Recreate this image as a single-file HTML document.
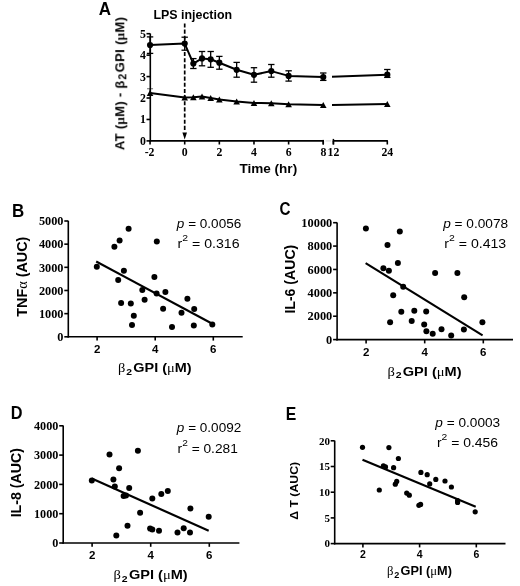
<!DOCTYPE html>
<html><head><meta charset="utf-8"><style>
html,body{margin:0;padding:0;background:#fff;}
svg{display:block;}

</style></head><body>
<svg width="520" height="586" viewBox="0 0 520 586">
<defs><filter id="bl" x="0" y="0" width="520" height="586" filterUnits="userSpaceOnUse"><feGaussianBlur stdDeviation="0.45"/></filter></defs>
<rect width="520" height="586" fill="#fff"/>
<g filter="url(#bl)">
<line x1="150.30" y1="33.50" x2="150.30" y2="141.70" stroke="#000" stroke-width="1.6" />
<line x1="146.50" y1="140.90" x2="150.30" y2="140.90" stroke="#000" stroke-width="1.6" />
<text x="146.00" y="144.90" font-family='"Liberation Serif", serif' font-size="11.8" font-weight="bold" text-anchor="end" >0</text>
<line x1="146.50" y1="119.46" x2="150.30" y2="119.46" stroke="#000" stroke-width="1.6" />
<text x="146.00" y="123.46" font-family='"Liberation Serif", serif' font-size="11.8" font-weight="bold" text-anchor="end" >1</text>
<line x1="146.50" y1="98.02" x2="150.30" y2="98.02" stroke="#000" stroke-width="1.6" />
<text x="146.00" y="102.02" font-family='"Liberation Serif", serif' font-size="11.8" font-weight="bold" text-anchor="end" >2</text>
<line x1="146.50" y1="76.58" x2="150.30" y2="76.58" stroke="#000" stroke-width="1.6" />
<text x="146.00" y="80.58" font-family='"Liberation Serif", serif' font-size="11.8" font-weight="bold" text-anchor="end" >3</text>
<line x1="146.50" y1="55.14" x2="150.30" y2="55.14" stroke="#000" stroke-width="1.6" />
<text x="146.00" y="59.14" font-family='"Liberation Serif", serif' font-size="11.8" font-weight="bold" text-anchor="end" >4</text>
<line x1="146.50" y1="33.70" x2="150.30" y2="33.70" stroke="#000" stroke-width="1.6" />
<text x="146.00" y="37.70" font-family='"Liberation Serif", serif' font-size="11.8" font-weight="bold" text-anchor="end" >5</text>
<line x1="149.50" y1="140.90" x2="323.86" y2="140.90" stroke="#000" stroke-width="1.6" />
<line x1="332.80" y1="140.90" x2="387.90" y2="140.90" stroke="#000" stroke-width="1.6" />
<line x1="150.06" y1="140.90" x2="150.06" y2="144.50" stroke="#000" stroke-width="1.6" />
<line x1="184.70" y1="140.90" x2="184.70" y2="144.50" stroke="#000" stroke-width="1.6" />
<line x1="219.34" y1="140.90" x2="219.34" y2="144.50" stroke="#000" stroke-width="1.6" />
<line x1="253.98" y1="140.90" x2="253.98" y2="144.50" stroke="#000" stroke-width="1.6" />
<line x1="288.62" y1="140.90" x2="288.62" y2="144.50" stroke="#000" stroke-width="1.6" />
<line x1="323.26" y1="140.90" x2="323.26" y2="144.50" stroke="#000" stroke-width="1.6" />
<line x1="333.40" y1="140.90" x2="333.40" y2="144.50" stroke="#000" stroke-width="1.6" />
<line x1="387.30" y1="140.90" x2="387.30" y2="144.50" stroke="#000" stroke-width="1.6" />
<line x1="323.26" y1="139.90" x2="323.26" y2="144.50" stroke="#000" stroke-width="1.5" />
<line x1="333.40" y1="138.90" x2="333.40" y2="144.50" stroke="#000" stroke-width="1.5" />
<line x1="325.46" y1="140.90" x2="331.20" y2="140.90" stroke="#d4d4d4" stroke-width="1.2" />
<text x="149.56" y="156.30" font-family='"Liberation Serif", serif' font-size="11.8" font-weight="bold" text-anchor="middle" >-2</text>
<text x="184.70" y="156.30" font-family='"Liberation Serif", serif' font-size="11.8" font-weight="bold" text-anchor="middle" >0</text>
<text x="219.34" y="156.30" font-family='"Liberation Serif", serif' font-size="11.8" font-weight="bold" text-anchor="middle" >2</text>
<text x="253.98" y="156.30" font-family='"Liberation Serif", serif' font-size="11.8" font-weight="bold" text-anchor="middle" >4</text>
<text x="288.62" y="156.30" font-family='"Liberation Serif", serif' font-size="11.8" font-weight="bold" text-anchor="middle" >6</text>
<text x="387.30" y="156.30" font-family='"Liberation Serif", serif' font-size="11.8" font-weight="bold" text-anchor="middle" >24</text>
<text x="323.50" y="156.30" font-family='"Liberation Serif", serif' font-size="11.8" font-weight="bold" text-anchor="middle" >8</text>
<text x="333.40" y="156.30" font-family='"Liberation Serif", serif' font-size="11.8" font-weight="bold" text-anchor="middle" >12</text>
<line x1="184.70" y1="23.4" x2="184.70" y2="47" stroke="#000" stroke-width="1.7" stroke-dasharray="4.1,2.05"/>
<line x1="184.70" y1="52" x2="184.70" y2="131" stroke="#000" stroke-width="1.7" stroke-dasharray="4.1,2.05"/>
<path d="M182.40,132.6 L187.00,132.6 L184.70,139.6 Z" fill="#000"/>
<polyline points="150.06,45.00 184.70,43.60 193.36,63.60 202.02,58.40 210.68,59.30 219.34,62.70 236.66,69.80 253.98,74.80 271.30,71.10 288.62,75.90 323.26,77.00" fill="none" stroke="#000" stroke-width="2.0" stroke-linejoin="round"/>
<line x1="332.00" y1="76.69" x2="387.30" y2="74.70" stroke="#000" stroke-width="2.0" />
<polyline points="150.06,92.90 184.70,97.60 193.36,97.20 202.02,96.60 210.68,98.00 219.34,99.40 236.66,101.40 253.98,102.90 271.30,103.30 288.62,104.30 323.26,105.00" fill="none" stroke="#000" stroke-width="2.0" stroke-linejoin="round"/>
<line x1="332.00" y1="104.88" x2="387.30" y2="104.10" stroke="#000" stroke-width="2.0" />
<line x1="150.06" y1="36.90" x2="150.06" y2="53.40" stroke="#000" stroke-width="1.3" />
<line x1="146.86" y1="36.90" x2="153.26" y2="36.90" stroke="#000" stroke-width="1.3" />
<line x1="146.86" y1="53.40" x2="153.26" y2="53.40" stroke="#000" stroke-width="1.3" />
<circle cx="150.06" cy="45.00" r="3.1" fill="#000"/>
<line x1="184.70" y1="37.20" x2="184.70" y2="50.20" stroke="#000" stroke-width="1.3" />
<line x1="181.50" y1="37.20" x2="187.90" y2="37.20" stroke="#000" stroke-width="1.3" />
<line x1="181.50" y1="50.20" x2="187.90" y2="50.20" stroke="#000" stroke-width="1.3" />
<circle cx="184.70" cy="43.60" r="3.1" fill="#000"/>
<line x1="193.36" y1="58.60" x2="193.36" y2="68.50" stroke="#000" stroke-width="1.3" />
<line x1="190.16" y1="58.60" x2="196.56" y2="58.60" stroke="#000" stroke-width="1.3" />
<line x1="190.16" y1="68.50" x2="196.56" y2="68.50" stroke="#000" stroke-width="1.3" />
<circle cx="193.36" cy="63.60" r="3.1" fill="#000"/>
<line x1="202.02" y1="51.50" x2="202.02" y2="65.80" stroke="#000" stroke-width="1.3" />
<line x1="198.82" y1="51.50" x2="205.22" y2="51.50" stroke="#000" stroke-width="1.3" />
<line x1="198.82" y1="65.80" x2="205.22" y2="65.80" stroke="#000" stroke-width="1.3" />
<circle cx="202.02" cy="58.40" r="3.1" fill="#000"/>
<line x1="210.68" y1="51.50" x2="210.68" y2="67.30" stroke="#000" stroke-width="1.3" />
<line x1="207.48" y1="51.50" x2="213.88" y2="51.50" stroke="#000" stroke-width="1.3" />
<line x1="207.48" y1="67.30" x2="213.88" y2="67.30" stroke="#000" stroke-width="1.3" />
<circle cx="210.68" cy="59.30" r="3.1" fill="#000"/>
<line x1="219.34" y1="56.40" x2="219.34" y2="69.20" stroke="#000" stroke-width="1.3" />
<line x1="216.14" y1="56.40" x2="222.54" y2="56.40" stroke="#000" stroke-width="1.3" />
<line x1="216.14" y1="69.20" x2="222.54" y2="69.20" stroke="#000" stroke-width="1.3" />
<circle cx="219.34" cy="62.70" r="3.1" fill="#000"/>
<line x1="236.66" y1="62.40" x2="236.66" y2="77.20" stroke="#000" stroke-width="1.3" />
<line x1="233.46" y1="62.40" x2="239.86" y2="62.40" stroke="#000" stroke-width="1.3" />
<line x1="233.46" y1="77.20" x2="239.86" y2="77.20" stroke="#000" stroke-width="1.3" />
<circle cx="236.66" cy="69.80" r="3.1" fill="#000"/>
<line x1="253.98" y1="67.70" x2="253.98" y2="82.20" stroke="#000" stroke-width="1.3" />
<line x1="250.78" y1="67.70" x2="257.18" y2="67.70" stroke="#000" stroke-width="1.3" />
<line x1="250.78" y1="82.20" x2="257.18" y2="82.20" stroke="#000" stroke-width="1.3" />
<circle cx="253.98" cy="74.80" r="3.1" fill="#000"/>
<line x1="271.30" y1="64.50" x2="271.30" y2="77.20" stroke="#000" stroke-width="1.3" />
<line x1="268.10" y1="64.50" x2="274.50" y2="64.50" stroke="#000" stroke-width="1.3" />
<line x1="268.10" y1="77.20" x2="274.50" y2="77.20" stroke="#000" stroke-width="1.3" />
<circle cx="271.30" cy="71.10" r="3.1" fill="#000"/>
<line x1="288.62" y1="70.80" x2="288.62" y2="81.10" stroke="#000" stroke-width="1.3" />
<line x1="285.42" y1="70.80" x2="291.82" y2="70.80" stroke="#000" stroke-width="1.3" />
<line x1="285.42" y1="81.10" x2="291.82" y2="81.10" stroke="#000" stroke-width="1.3" />
<circle cx="288.62" cy="75.90" r="3.1" fill="#000"/>
<line x1="323.26" y1="73.00" x2="323.26" y2="80.40" stroke="#000" stroke-width="1.3" />
<line x1="320.06" y1="73.00" x2="326.46" y2="73.00" stroke="#000" stroke-width="1.3" />
<line x1="320.06" y1="80.40" x2="326.46" y2="80.40" stroke="#000" stroke-width="1.3" />
<circle cx="323.26" cy="77.00" r="3.1" fill="#000"/>
<line x1="387.30" y1="69.50" x2="387.30" y2="77.40" stroke="#000" stroke-width="1.3" />
<line x1="384.10" y1="69.50" x2="390.50" y2="69.50" stroke="#000" stroke-width="1.3" />
<line x1="384.10" y1="77.40" x2="390.50" y2="77.40" stroke="#000" stroke-width="1.3" />
<circle cx="387.30" cy="74.70" r="3.1" fill="#000"/>
<line x1="150.06" y1="88.70" x2="150.06" y2="92.90" stroke="#000" stroke-width="1.2" stroke-opacity="0.5"/>
<line x1="147.06" y1="88.70" x2="153.06" y2="88.70" stroke="#000" stroke-width="1.2" stroke-opacity="0.5"/>
<path d="M146.76,95.90 L150.06,89.90 L153.36,95.90 Z" fill="#000"/>
<path d="M181.40,100.60 L184.70,94.60 L188.00,100.60 Z" fill="#000"/>
<path d="M190.06,100.20 L193.36,94.20 L196.66,100.20 Z" fill="#000"/>
<path d="M198.72,99.60 L202.02,93.60 L205.32,99.60 Z" fill="#000"/>
<path d="M207.38,101.00 L210.68,95.00 L213.98,101.00 Z" fill="#000"/>
<path d="M216.04,102.40 L219.34,96.40 L222.64,102.40 Z" fill="#000"/>
<path d="M233.36,104.40 L236.66,98.40 L239.96,104.40 Z" fill="#000"/>
<path d="M250.68,105.90 L253.98,99.90 L257.28,105.90 Z" fill="#000"/>
<path d="M268.00,106.30 L271.30,100.30 L274.60,106.30 Z" fill="#000"/>
<path d="M285.32,107.30 L288.62,101.30 L291.92,107.30 Z" fill="#000"/>
<path d="M319.96,108.00 L323.26,102.00 L326.56,108.00 Z" fill="#000"/>
<path d="M384.00,107.10 L387.30,101.10 L390.60,107.10 Z" fill="#000"/>
<line x1="68.30" y1="220.80" x2="68.30" y2="337.60" stroke="#000" stroke-width="1.6" />
<line x1="64.30" y1="336.80" x2="68.30" y2="336.80" stroke="#000" stroke-width="1.6" />
<text x="63.50" y="340.98" font-family='"Liberation Serif", serif' font-size="12.3" font-weight="bold" text-anchor="end" >0</text>
<line x1="64.30" y1="313.64" x2="68.30" y2="313.64" stroke="#000" stroke-width="1.6" />
<text x="63.50" y="317.82" font-family='"Liberation Serif", serif' font-size="12.3" font-weight="bold" text-anchor="end" >1000</text>
<line x1="64.30" y1="290.48" x2="68.30" y2="290.48" stroke="#000" stroke-width="1.6" />
<text x="63.50" y="294.66" font-family='"Liberation Serif", serif' font-size="12.3" font-weight="bold" text-anchor="end" >2000</text>
<line x1="64.30" y1="267.32" x2="68.30" y2="267.32" stroke="#000" stroke-width="1.6" />
<text x="63.50" y="271.50" font-family='"Liberation Serif", serif' font-size="12.3" font-weight="bold" text-anchor="end" >3000</text>
<line x1="64.30" y1="244.16" x2="68.30" y2="244.16" stroke="#000" stroke-width="1.6" />
<text x="63.50" y="248.34" font-family='"Liberation Serif", serif' font-size="12.3" font-weight="bold" text-anchor="end" >4000</text>
<line x1="64.30" y1="221.00" x2="68.30" y2="221.00" stroke="#000" stroke-width="1.6" />
<text x="63.50" y="225.18" font-family='"Liberation Serif", serif' font-size="12.3" font-weight="bold" text-anchor="end" >5000</text>
<line x1="67.50" y1="336.80" x2="242.70" y2="336.80" stroke="#000" stroke-width="1.6" />
<line x1="97.10" y1="336.80" x2="97.10" y2="340.60" stroke="#000" stroke-width="1.6" />
<text x="97.10" y="352.60" font-family='"Liberation Sans", sans-serif' font-size="11.5" font-weight="bold" text-anchor="middle" >2</text>
<line x1="155.20" y1="336.80" x2="155.20" y2="340.60" stroke="#000" stroke-width="1.6" />
<text x="155.20" y="352.60" font-family='"Liberation Sans", sans-serif' font-size="11.5" font-weight="bold" text-anchor="middle" >4</text>
<line x1="213.30" y1="336.80" x2="213.30" y2="340.60" stroke="#000" stroke-width="1.6" />
<text x="213.30" y="352.60" font-family='"Liberation Sans", sans-serif' font-size="11.5" font-weight="bold" text-anchor="middle" >6</text>
<circle cx="128.60" cy="228.70" r="3.0" fill="#000"/>
<circle cx="119.60" cy="240.40" r="3.0" fill="#000"/>
<circle cx="114.40" cy="246.80" r="3.0" fill="#000"/>
<circle cx="156.80" cy="241.60" r="3.0" fill="#000"/>
<circle cx="96.80" cy="266.70" r="3.0" fill="#000"/>
<circle cx="123.90" cy="270.70" r="3.0" fill="#000"/>
<circle cx="118.20" cy="280.00" r="3.0" fill="#000"/>
<circle cx="154.40" cy="277.00" r="3.0" fill="#000"/>
<circle cx="142.30" cy="290.00" r="3.0" fill="#000"/>
<circle cx="156.60" cy="293.50" r="3.0" fill="#000"/>
<circle cx="165.40" cy="292.00" r="3.0" fill="#000"/>
<circle cx="144.60" cy="299.70" r="3.0" fill="#000"/>
<circle cx="121.10" cy="303.10" r="3.0" fill="#000"/>
<circle cx="130.80" cy="303.50" r="3.0" fill="#000"/>
<circle cx="163.10" cy="308.80" r="3.0" fill="#000"/>
<circle cx="133.80" cy="315.80" r="3.0" fill="#000"/>
<circle cx="132.00" cy="325.10" r="3.0" fill="#000"/>
<circle cx="172.00" cy="326.90" r="3.0" fill="#000"/>
<circle cx="187.40" cy="298.80" r="3.0" fill="#000"/>
<circle cx="194.20" cy="308.90" r="3.0" fill="#000"/>
<circle cx="181.50" cy="312.80" r="3.0" fill="#000"/>
<circle cx="193.80" cy="325.40" r="3.0" fill="#000"/>
<circle cx="212.30" cy="324.60" r="3.0" fill="#000"/>
<line x1="96.20" y1="261.50" x2="212.30" y2="323.80" stroke="#000" stroke-width="2.1" />
<line x1="337.10" y1="222.50" x2="337.10" y2="340.40" stroke="#000" stroke-width="1.6" />
<line x1="333.10" y1="339.60" x2="337.10" y2="339.60" stroke="#000" stroke-width="1.6" />
<text x="332.30" y="343.82" font-family='"Liberation Serif", serif' font-size="12.4" font-weight="bold" text-anchor="end" >0</text>
<line x1="333.10" y1="316.22" x2="337.10" y2="316.22" stroke="#000" stroke-width="1.6" />
<text x="332.30" y="320.44" font-family='"Liberation Serif", serif' font-size="12.4" font-weight="bold" text-anchor="end" >2000</text>
<line x1="333.10" y1="292.84" x2="337.10" y2="292.84" stroke="#000" stroke-width="1.6" />
<text x="332.30" y="297.06" font-family='"Liberation Serif", serif' font-size="12.4" font-weight="bold" text-anchor="end" >4000</text>
<line x1="333.10" y1="269.46" x2="337.10" y2="269.46" stroke="#000" stroke-width="1.6" />
<text x="332.30" y="273.68" font-family='"Liberation Serif", serif' font-size="12.4" font-weight="bold" text-anchor="end" >6000</text>
<line x1="333.10" y1="246.08" x2="337.10" y2="246.08" stroke="#000" stroke-width="1.6" />
<text x="332.30" y="250.30" font-family='"Liberation Serif", serif' font-size="12.4" font-weight="bold" text-anchor="end" >8000</text>
<line x1="333.10" y1="222.70" x2="337.10" y2="222.70" stroke="#000" stroke-width="1.6" />
<text x="332.30" y="226.92" font-family='"Liberation Serif", serif' font-size="12.4" font-weight="bold" text-anchor="end" >10000</text>
<line x1="336.30" y1="339.60" x2="513.00" y2="339.60" stroke="#000" stroke-width="1.6" />
<line x1="366.10" y1="339.60" x2="366.10" y2="343.40" stroke="#000" stroke-width="1.6" />
<text x="366.10" y="355.80" font-family='"Liberation Sans", sans-serif' font-size="11.5" font-weight="bold" text-anchor="middle" >2</text>
<line x1="424.70" y1="339.60" x2="424.70" y2="343.40" stroke="#000" stroke-width="1.6" />
<text x="424.70" y="355.80" font-family='"Liberation Sans", sans-serif' font-size="11.5" font-weight="bold" text-anchor="middle" >4</text>
<line x1="483.30" y1="339.60" x2="483.30" y2="343.40" stroke="#000" stroke-width="1.6" />
<text x="483.30" y="355.80" font-family='"Liberation Sans", sans-serif' font-size="11.5" font-weight="bold" text-anchor="middle" >6</text>
<circle cx="365.90" cy="228.50" r="3.0" fill="#000"/>
<circle cx="399.80" cy="231.40" r="3.0" fill="#000"/>
<circle cx="387.50" cy="244.90" r="3.0" fill="#000"/>
<circle cx="397.90" cy="262.90" r="3.0" fill="#000"/>
<circle cx="383.40" cy="268.30" r="3.0" fill="#000"/>
<circle cx="388.90" cy="270.70" r="3.0" fill="#000"/>
<circle cx="435.10" cy="273.10" r="3.0" fill="#000"/>
<circle cx="457.40" cy="273.10" r="3.0" fill="#000"/>
<circle cx="403.20" cy="286.80" r="3.0" fill="#000"/>
<circle cx="393.20" cy="295.30" r="3.0" fill="#000"/>
<circle cx="401.30" cy="311.80" r="3.0" fill="#000"/>
<circle cx="414.30" cy="310.70" r="3.0" fill="#000"/>
<circle cx="426.20" cy="311.40" r="3.0" fill="#000"/>
<circle cx="390.10" cy="322.20" r="3.0" fill="#000"/>
<circle cx="411.70" cy="321.00" r="3.0" fill="#000"/>
<circle cx="424.20" cy="324.40" r="3.0" fill="#000"/>
<circle cx="426.40" cy="331.30" r="3.0" fill="#000"/>
<circle cx="432.70" cy="333.80" r="3.0" fill="#000"/>
<circle cx="441.50" cy="329.20" r="3.0" fill="#000"/>
<circle cx="451.20" cy="335.40" r="3.0" fill="#000"/>
<circle cx="463.90" cy="329.60" r="3.0" fill="#000"/>
<circle cx="464.20" cy="297.20" r="3.0" fill="#000"/>
<circle cx="482.40" cy="322.20" r="3.0" fill="#000"/>
<line x1="365.60" y1="263.10" x2="482.60" y2="335.40" stroke="#000" stroke-width="2.1" />
<line x1="63.20" y1="425.60" x2="63.20" y2="543.80" stroke="#000" stroke-width="1.6" />
<line x1="59.20" y1="543.00" x2="63.20" y2="543.00" stroke="#000" stroke-width="1.6" />
<text x="58.40" y="547.15" font-family='"Liberation Serif", serif' font-size="12.2" font-weight="bold" text-anchor="end" >0</text>
<line x1="59.20" y1="513.70" x2="63.20" y2="513.70" stroke="#000" stroke-width="1.6" />
<text x="58.40" y="517.85" font-family='"Liberation Serif", serif' font-size="12.2" font-weight="bold" text-anchor="end" >1000</text>
<line x1="59.20" y1="484.40" x2="63.20" y2="484.40" stroke="#000" stroke-width="1.6" />
<text x="58.40" y="488.55" font-family='"Liberation Serif", serif' font-size="12.2" font-weight="bold" text-anchor="end" >2000</text>
<line x1="59.20" y1="455.10" x2="63.20" y2="455.10" stroke="#000" stroke-width="1.6" />
<text x="58.40" y="459.25" font-family='"Liberation Serif", serif' font-size="12.2" font-weight="bold" text-anchor="end" >3000</text>
<line x1="59.20" y1="425.80" x2="63.20" y2="425.80" stroke="#000" stroke-width="1.6" />
<text x="58.40" y="429.95" font-family='"Liberation Serif", serif' font-size="12.2" font-weight="bold" text-anchor="end" >4000</text>
<line x1="62.40" y1="543.00" x2="239.40" y2="543.00" stroke="#000" stroke-width="1.6" />
<line x1="92.10" y1="543.00" x2="92.10" y2="546.80" stroke="#000" stroke-width="1.6" />
<text x="92.10" y="559.20" font-family='"Liberation Sans", sans-serif' font-size="11.5" font-weight="bold" text-anchor="middle" >2</text>
<line x1="150.70" y1="543.00" x2="150.70" y2="546.80" stroke="#000" stroke-width="1.6" />
<text x="150.70" y="559.20" font-family='"Liberation Sans", sans-serif' font-size="11.5" font-weight="bold" text-anchor="middle" >4</text>
<line x1="209.30" y1="543.00" x2="209.30" y2="546.80" stroke="#000" stroke-width="1.6" />
<text x="209.30" y="559.20" font-family='"Liberation Sans", sans-serif' font-size="11.5" font-weight="bold" text-anchor="middle" >6</text>
<circle cx="109.50" cy="454.50" r="3.0" fill="#000"/>
<circle cx="137.90" cy="450.70" r="3.0" fill="#000"/>
<circle cx="119.10" cy="468.20" r="3.0" fill="#000"/>
<circle cx="91.80" cy="480.40" r="3.0" fill="#000"/>
<circle cx="113.40" cy="479.50" r="3.0" fill="#000"/>
<circle cx="114.80" cy="486.40" r="3.0" fill="#000"/>
<circle cx="129.20" cy="487.90" r="3.0" fill="#000"/>
<circle cx="123.60" cy="496.00" r="3.0" fill="#000"/>
<circle cx="126.00" cy="495.40" r="3.0" fill="#000"/>
<circle cx="152.30" cy="498.50" r="3.0" fill="#000"/>
<circle cx="161.30" cy="494.00" r="3.0" fill="#000"/>
<circle cx="167.80" cy="491.00" r="3.0" fill="#000"/>
<circle cx="140.10" cy="512.70" r="3.0" fill="#000"/>
<circle cx="127.50" cy="525.70" r="3.0" fill="#000"/>
<circle cx="150.10" cy="528.50" r="3.0" fill="#000"/>
<circle cx="152.30" cy="529.50" r="3.0" fill="#000"/>
<circle cx="159.00" cy="530.80" r="3.0" fill="#000"/>
<circle cx="116.30" cy="535.50" r="3.0" fill="#000"/>
<circle cx="190.40" cy="508.50" r="3.0" fill="#000"/>
<circle cx="208.70" cy="516.70" r="3.0" fill="#000"/>
<circle cx="177.50" cy="532.50" r="3.0" fill="#000"/>
<circle cx="183.70" cy="528.30" r="3.0" fill="#000"/>
<circle cx="190.00" cy="532.50" r="3.0" fill="#000"/>
<line x1="91.80" y1="478.50" x2="208.70" y2="530.80" stroke="#000" stroke-width="2.1" />
<line x1="334.70" y1="440.60" x2="334.70" y2="544.40" stroke="#000" stroke-width="1.6" />
<line x1="330.70" y1="543.60" x2="334.70" y2="543.60" stroke="#000" stroke-width="1.6" />
<text x="329.90" y="547.34" font-family='"Liberation Serif", serif' font-size="11" font-weight="bold" text-anchor="end" >0</text>
<line x1="330.70" y1="517.90" x2="334.70" y2="517.90" stroke="#000" stroke-width="1.6" />
<text x="329.90" y="521.64" font-family='"Liberation Serif", serif' font-size="11" font-weight="bold" text-anchor="end" >5</text>
<line x1="330.70" y1="492.20" x2="334.70" y2="492.20" stroke="#000" stroke-width="1.6" />
<text x="329.90" y="495.94" font-family='"Liberation Serif", serif' font-size="11" font-weight="bold" text-anchor="end" >10</text>
<line x1="330.70" y1="466.50" x2="334.70" y2="466.50" stroke="#000" stroke-width="1.6" />
<text x="329.90" y="470.24" font-family='"Liberation Serif", serif' font-size="11" font-weight="bold" text-anchor="end" >15</text>
<line x1="330.70" y1="440.80" x2="334.70" y2="440.80" stroke="#000" stroke-width="1.6" />
<text x="329.90" y="444.54" font-family='"Liberation Serif", serif' font-size="11" font-weight="bold" text-anchor="end" >20</text>
<line x1="333.90" y1="543.60" x2="505.50" y2="543.60" stroke="#000" stroke-width="1.6" />
<line x1="362.90" y1="543.60" x2="362.90" y2="547.40" stroke="#000" stroke-width="1.6" />
<text x="362.90" y="557.80" font-family='"Liberation Sans", sans-serif' font-size="10.5" font-weight="bold" text-anchor="middle" >2</text>
<line x1="419.60" y1="543.60" x2="419.60" y2="547.40" stroke="#000" stroke-width="1.6" />
<text x="419.60" y="557.80" font-family='"Liberation Sans", sans-serif' font-size="10.5" font-weight="bold" text-anchor="middle" >4</text>
<line x1="476.30" y1="543.60" x2="476.30" y2="547.40" stroke="#000" stroke-width="1.6" />
<text x="476.30" y="557.80" font-family='"Liberation Sans", sans-serif' font-size="10.5" font-weight="bold" text-anchor="middle" >6</text>
<circle cx="362.50" cy="447.30" r="2.6" fill="#000"/>
<circle cx="388.90" cy="447.60" r="2.6" fill="#000"/>
<circle cx="398.40" cy="458.50" r="2.6" fill="#000"/>
<circle cx="383.40" cy="465.80" r="2.6" fill="#000"/>
<circle cx="385.50" cy="466.90" r="2.6" fill="#000"/>
<circle cx="393.60" cy="467.70" r="2.6" fill="#000"/>
<circle cx="420.90" cy="472.40" r="2.6" fill="#000"/>
<circle cx="427.20" cy="474.70" r="2.6" fill="#000"/>
<circle cx="435.80" cy="479.40" r="2.6" fill="#000"/>
<circle cx="429.70" cy="483.90" r="2.6" fill="#000"/>
<circle cx="445.00" cy="481.00" r="2.6" fill="#000"/>
<circle cx="451.40" cy="487.00" r="2.6" fill="#000"/>
<circle cx="396.70" cy="481.40" r="2.6" fill="#000"/>
<circle cx="395.30" cy="484.20" r="2.6" fill="#000"/>
<circle cx="379.30" cy="490.00" r="2.6" fill="#000"/>
<circle cx="406.70" cy="493.10" r="2.6" fill="#000"/>
<circle cx="409.30" cy="495.20" r="2.6" fill="#000"/>
<circle cx="418.90" cy="505.30" r="2.6" fill="#000"/>
<circle cx="420.60" cy="504.40" r="2.6" fill="#000"/>
<circle cx="457.60" cy="500.70" r="2.6" fill="#000"/>
<circle cx="457.60" cy="502.50" r="2.6" fill="#000"/>
<circle cx="475.20" cy="511.80" r="2.6" fill="#000"/>
<line x1="362.50" y1="459.80" x2="475.70" y2="506.80" stroke="#000" stroke-width="2.1" />
<text transform="translate(98.71,14.60) scale(0.9702,1)" font-family='"Liberation Sans", sans-serif' font-size="17.5" font-weight="bold">A</text>
<text transform="translate(11.99,216.50) scale(0.9667,1)" font-family='"Liberation Sans", sans-serif' font-size="17.5" font-weight="bold">B</text>
<text transform="translate(279.55,215.10) scale(0.8696,1)" font-family='"Liberation Sans", sans-serif' font-size="17.5" font-weight="bold">C</text>
<text transform="translate(10.64,419.40) scale(0.9302,1)" font-family='"Liberation Sans", sans-serif' font-size="17.5" font-weight="bold">D</text>
<text transform="translate(285.67,420.40) scale(0.9026,1)" font-family='"Liberation Sans", sans-serif' font-size="17.5" font-weight="bold">E</text>
<text transform="translate(153.46,18.60) scale(0.9866,1)" font-family='"Liberation Sans", sans-serif' font-size="12.6" font-weight="bold">LPS injection</text>
<text transform="translate(239.40,172.60) scale(0.9974,1)" font-family='"Liberation Sans", sans-serif' font-size="13.6" font-weight="bold">Time (hr)</text>
<text transform="translate(118.10,372.30) scale(1.0691,1)" font-family='"Liberation Sans", sans-serif' font-size="13.5" font-weight="bold"><tspan font-family='"Liberation Serif", serif' font-weight="normal">&#946;</tspan><tspan dx="0.8" font-size="9.7" dy="2.6">2</tspan><tspan dx="1.2" dy="-2.6">GPI (</tspan><tspan font-family='"Liberation Serif", serif' font-weight="normal">&#956;</tspan>M)</text>
<text transform="translate(387.39,375.60) scale(1.0796,1)" font-family='"Liberation Sans", sans-serif' font-size="13.5" font-weight="bold"><tspan font-family='"Liberation Serif", serif' font-weight="normal">&#946;</tspan><tspan dx="0.8" font-size="9.7" dy="2.6">2</tspan><tspan dx="1.2" dy="-2.6">GPI (</tspan><tspan font-family='"Liberation Serif", serif' font-weight="normal">&#956;</tspan>M)</text>
<text transform="translate(113.59,579.30) scale(1.0781,1)" font-family='"Liberation Sans", sans-serif' font-size="13.5" font-weight="bold"><tspan font-family='"Liberation Serif", serif' font-weight="normal">&#946;</tspan><tspan dx="0.8" font-size="9.7" dy="2.6">2</tspan><tspan dx="1.2" dy="-2.6">GPI (</tspan><tspan font-family='"Liberation Serif", serif' font-weight="normal">&#956;</tspan>M)</text>
<text transform="translate(386.90,575.40) scale(1.0617,1)" font-family='"Liberation Sans", sans-serif' font-size="12" font-weight="bold"><tspan font-family='"Liberation Serif", serif' font-weight="normal">&#946;</tspan><tspan dx="0.8" font-size="8.6" dy="2.6">2</tspan><tspan dx="1.2" dy="-2.6">GPI (</tspan><tspan font-family='"Liberation Serif", serif' font-weight="normal">&#956;</tspan>M)</text>
<text transform="translate(124.30,150.15) rotate(-90)" letter-spacing="0.321" font-family='"Liberation Sans", sans-serif' font-size="13.0" font-weight="bold">AT (<tspan font-family='"Liberation Serif", serif' font-weight="bold">&#956;</tspan>M) - &#946;<tspan dx="0.6" font-size="10.5" dy="2.2">2</tspan><tspan dx="1.2" dy="-2.2">GPI (</tspan><tspan font-family='"Liberation Serif", serif' font-weight="bold">&#956;</tspan>M)</text>
<text transform="translate(27.00,316.76) rotate(-90) scale(1.0414,1)" font-family='"Liberation Sans", sans-serif' font-size="13.8" font-weight="bold">TNF<tspan font-family='"Liberation Serif", serif' font-weight="normal">&#945;</tspan> (AUC)</text>
<text transform="translate(294.50,313.62) rotate(-90) scale(1.0228,1)" font-family='"Liberation Sans", sans-serif' font-size="13.8" font-weight="bold">IL-6 (AUC)</text>
<text transform="translate(20.60,517.33) rotate(-90) scale(1.0297,1)" font-family='"Liberation Sans", sans-serif' font-size="13.8" font-weight="bold">IL-8 (AUC)</text>
<text transform="translate(297.50,519.72) rotate(-90) scale(1.0393,1)" font-family='"Liberation Sans", sans-serif' font-size="11.8" font-weight="bold">&#916; T (AUC)</text>
<text transform="translate(176.86,227.80) scale(1.0423,1)" font-family='"Liberation Sans", sans-serif' font-size="13" font-weight="normal"><tspan font-style="italic">p</tspan> = 0.0056</text>
<text transform="translate(443.16,227.80) scale(1.0504,1)" font-family='"Liberation Sans", sans-serif' font-size="13" font-weight="normal"><tspan font-style="italic">p</tspan> = 0.0078</text>
<text transform="translate(176.86,432.00) scale(1.0423,1)" font-family='"Liberation Sans", sans-serif' font-size="13" font-weight="normal"><tspan font-style="italic">p</tspan> = 0.0092</text>
<text transform="translate(435.36,426.60) scale(1.0488,1)" font-family='"Liberation Sans", sans-serif' font-size="13" font-weight="normal"><tspan font-style="italic">p</tspan> = 0.0003</text>
<text transform="translate(177.58,248.20) scale(1.0870,1)" font-family='"Liberation Sans", sans-serif' font-size="13" font-weight="normal">r<tspan font-size="9.6" dy="-6.8">2</tspan><tspan dy="6.8"> = 0.316</tspan></text>
<text transform="translate(444.28,248.20) scale(1.0870,1)" font-family='"Liberation Sans", sans-serif' font-size="13" font-weight="normal">r<tspan font-size="9.6" dy="-6.8">2</tspan><tspan dy="6.8"> = 0.413</tspan></text>
<text transform="translate(177.61,452.50) scale(1.0565,1)" font-family='"Liberation Sans", sans-serif' font-size="13" font-weight="normal">r<tspan font-size="9.6" dy="-6.8">2</tspan><tspan dy="6.8"> = 0.281</tspan></text>
<text transform="translate(436.90,447.00) scale(1.0726,1)" font-family='"Liberation Sans", sans-serif' font-size="13" font-weight="normal">r<tspan font-size="9.6" dy="-6.8">2</tspan><tspan dy="6.8"> = 0.456</tspan></text>
</g>
</svg>
</body></html>
